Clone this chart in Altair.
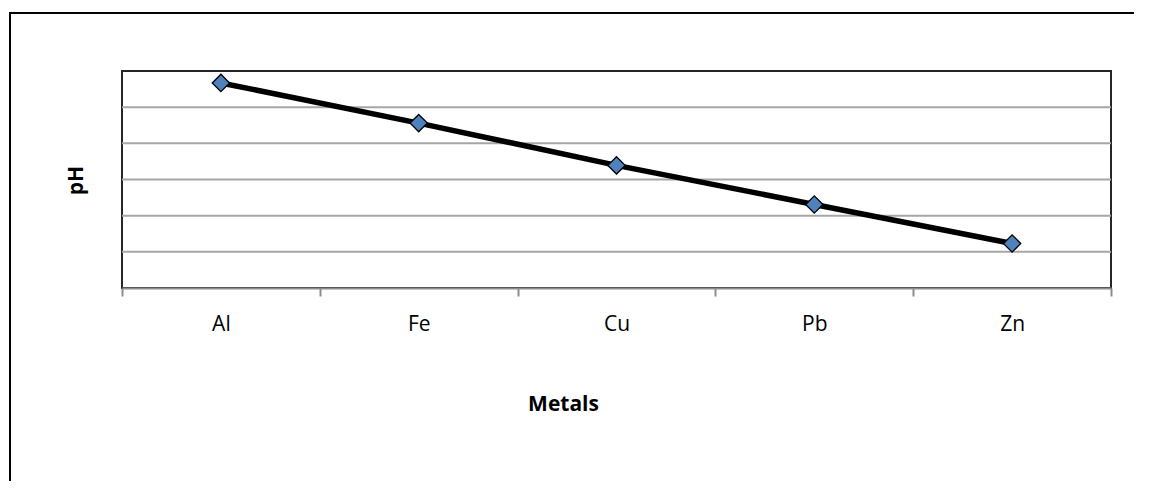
import altair as alt
import pandas as pd

metals = ["Al", "Fe", "Cu", "Pb", "Zn"]
ph = [5.67, 4.56, 3.39, 2.31, 1.23]
grid_values = [1, 2, 3, 4, 5]

df = pd.DataFrame({"metal": metals, "ph": ph})
grid_df = pd.DataFrame({"v": grid_values})

FONT = "Open Sans"

x_enc = alt.X(
    "metal:N",
    sort=metals,
    scale=alt.Scale(paddingInner=0, paddingOuter=0),
    axis=alt.Axis(
        title="Metals",
        labelAngle=0,
        tickBand="extent",
        tickSize=8,
        tickColor="#8c8c8c",
        tickWidth=2,
        domainColor="#8c8c8c",
        domainWidth=2,
        grid=False,
        labelFont=FONT,
        labelFontSize=21,
        labelColor="#000000",
        labelBaseline="alphabetic",
        labelPadding=34,
        titleFont=FONT,
        titleFontSize=21,
        titleFontWeight="bold",
        titleColor="#000000",
        titleX=441,
        titleY=122,
        titleAlign="center",
        titleBaseline="alphabetic",
    ),
)

y_scale = alt.Scale(domain=[0, 6], nice=False)

y_enc = alt.Y(
    "ph:Q",
    scale=y_scale,
    axis=alt.Axis(
        title="pH",
        labels=False,
        ticks=False,
        domain=False,
        grid=False,
        titleFont=FONT,
        titleFontSize=21,
        titleFontWeight="bold",
        titleColor="#000000",
        titleX=-46,
        titleY=109,
        titleAlign="center",
        titleBaseline="middle",
    ),
)

grid = alt.Chart(grid_df).mark_rule(color="#a6a6a6", strokeWidth=2).encode(
    y=alt.Y("v:Q", scale=y_scale)
)

base = alt.Chart(df)

line = base.mark_line(color="#000000", strokeWidth=5.5).encode(x=x_enc, y=y_enc)
points = base.mark_point(
    shape="diamond", filled=True, fill="#4F81BD", stroke="#000000",
    strokeWidth=1.3, size=300, opacity=1
).encode(x=x_enc, y=y_enc)

frame_top = alt.Chart(df).mark_rule(color="#000000", strokeWidth=2, clip=False).encode(
    x=alt.value(-112), x2=alt.value(1012), y=alt.value(-58)
)
frame_left = alt.Chart(df).mark_rule(color="#000000", strokeWidth=2, clip=False).encode(
    x=alt.value(-112), y=alt.value(-59), y2=alt.value(410)
)

chart = alt.layer(grid, line, points, frame_top, frame_left).properties(
    width=989,
    height=217,
    autosize=alt.AutoSizeParams(type="none"),
    padding={"left": 122, "top": 71, "right": 38, "bottom": 193},
    background="#ffffff",
).configure_view(stroke="#262626", strokeWidth=2)

chart.save("out.html", embed_options={"renderer": "svg", "actions": False})
